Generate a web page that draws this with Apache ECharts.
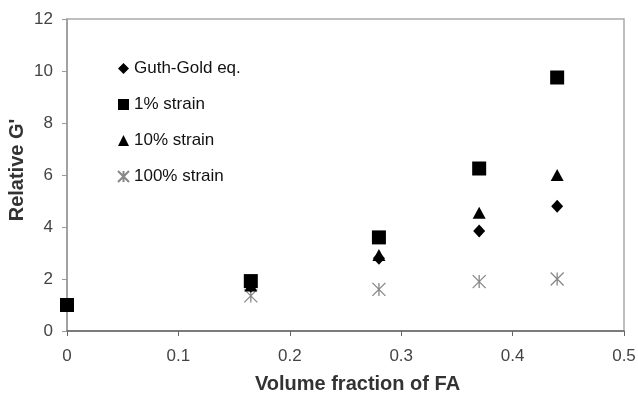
<!DOCTYPE html>
<html><head><meta charset="utf-8">
<script src="https://cdn.jsdelivr.net/npm/echarts@6/dist/echarts.min.js"></script>
<style>html,body{margin:0;padding:0;background:#fff}#c{width:638px;height:394px}</style>
</head><body><div id="c"></div>
<script>
const xVals = [0, 0.165, 0.28, 0.37, 0.44];
const guthGold = [1, 1.72, 2.8, 3.85, 4.8];
const strain1 = [1, 1.92, 3.6, 6.25, 9.75];
const strain10 = [1, 1.75, 2.92, 4.55, 6.0];
const strain100 = [1, 1.35, 1.6, 1.9, 2.0];
const seriesNames = ['Guth-Gold eq.', '1% strain', '10% strain', '100% strain'];

const pair = arr => xVals.map((x, i) => [x, arr[i]]);
const star = 'path://M0,0L10,10M10,0L0,10M5,0L5,10';
const font = 'Liberation Sans, Arial, sans-serif';

const chart = echarts.init(document.getElementById('c'));
chart.setOption({
  animation: false,
  textStyle: { fontFamily: font },
  grid: { left: 67, right: 14, top: 19, bottom: 63, outerBoundsMode: 'none', containLabel: false,
          show: true, borderColor: '#aaa', borderWidth: 1.5, backgroundColor: '#fff' },
  legend: {
    orient: 'vertical', left: 112, top: 55, itemGap: 19, itemWidth: 11, itemHeight: 11,
    textStyle: { color: '#111', fontSize: 17, fontFamily: font },
    data: seriesNames
  },
  xAxis: {
    type: 'value', min: 0, max: 0.5, interval: 0.1,
    name: 'Volume fraction of FA', nameLocation: 'middle', nameGap: 43, nameMoveOverlap: false,
    nameTextStyle: { fontSize: 20, fontWeight: 'bold', color: '#333', padding: [0, 0, 0, 24] },
    axisLine: { show: true, onZero: false, lineStyle: { color: '#666', width: 1.5 } },
    axisTick: { show: true, length: 5, lineStyle: { color: '#666' } },
    axisLabel: { color: '#444', fontSize: 17, margin: 17, formatter: v => String(+v.toFixed(1)) },
    splitLine: { show: false }
  },
  yAxis: {
    type: 'value', min: 0, max: 12, interval: 2,
    name: "Relative G'", nameLocation: 'middle', nameGap: 40, nameMoveOverlap: false,
    nameTextStyle: { fontSize: 20, fontWeight: 'bold', color: '#333', padding: [0, 0, 0, 10] },
    axisLine: { show: true, lineStyle: { color: '#999', width: 1.5 } },
    axisTick: { show: true, length: 5, lineStyle: { color: '#999' } },
    axisLabel: { color: '#444', fontSize: 17, margin: 14 },
    splitLine: { show: false }
  },
  series: [
    { name: seriesNames[3], type: 'scatter', data: pair(strain100), symbol: star, symbolSize: 13,
      itemStyle: { color: '#888', borderColor: '#888', borderWidth: 1.3, opacity: 1 }, z: 2 },
    { name: seriesNames[0], type: 'scatter', data: pair(guthGold), symbol: 'diamond', symbolSize: [12, 13],
      itemStyle: { color: '#000', opacity: 1 }, z: 3 },
    { name: seriesNames[2], type: 'scatter', data: pair(strain10), symbol: 'triangle', symbolSize: [13, 12],
      itemStyle: { color: '#000', opacity: 1 }, z: 4 },
    { name: seriesNames[1], type: 'scatter', data: pair(strain1), symbol: 'rect', symbolSize: 14,
      itemStyle: { color: '#000', opacity: 1 }, z: 5 }
  ]
});
</script></body></html>
